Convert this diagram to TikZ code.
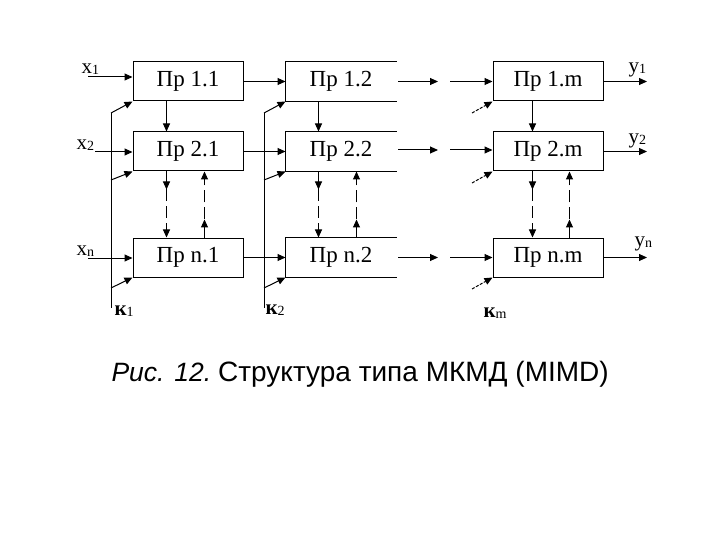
\documentclass[tikz,border=0pt]{standalone}
\usepackage{fontspec}
\setmainfont{Liberation Serif}
\newfontfamily\capfont{Liberation Sans}
\usetikzlibrary{arrows.meta,calc}
\tikzset{
  box/.style={minimum width=110pt, minimum height=39pt, inner sep=0pt, font=\fontsize{23}{26}\selectfont},
  arr/.style={-{Triangle[length=8pt,width=7pt]}},
  dsh/.style={-{Triangle[length=8pt,width=7pt]}, dash pattern=on 12pt off 5pt},
  lbl/.style={inner sep=0pt, font=\fontsize{21}{24}\selectfont},
}
\newcommand{\sbs}[1]{\raisebox{-1pt}{\fontsize{14}{16}\selectfont #1}}
\begin{document}
\begin{tikzpicture}[x=1pt,y=-1pt,line width=1pt]
\useasboundingbox (0,0) rectangle (720,540);
% boxes
\node[box,draw] (b11) at (188,81.5) {Пр 1.1};
\node[box] (b12) at (341,81.5) {Пр 1.2};
\node[box,draw] (b1m) at (548,81.5) {Пр 1.m};
\node[box,draw] (b21) at (188,151.5) {Пр 2.1};
\node[box] (b22) at (341,151.5) {Пр 2.2};
\node[box,draw] (b2m) at (548,151.5) {Пр 2.m};
\node[box,draw] (bn1) at (188,257.5) {Пр n.1};
\node[box] (bn2) at (341,257.5) {Пр n.2};
\node[box,draw] (bnm) at (548,257.5) {Пр n.m};
\foreach \b in {b12,b22,bn2}
  \draw (\b.north east) -- (\b.north west) -- (\b.south west) -- (\b.south east);
% labels
\node[lbl,anchor=base west] (lx1) at (81,74) {x\sbs{1}};
\node[lbl,anchor=base west] (lx2) at (76,150) {x\sbs{2}};
\node[lbl,anchor=base west] (lxn) at (76,255) {x\sbs{n}};
\node[lbl,anchor=base west] (ly1) at (628,73) {y\sbs{1}};
\node[lbl,anchor=base west] (ly2) at (628,144) {y\sbs{2}};
\node[lbl,anchor=base west] (lyn) at (634,247) {y\sbs{n}};
\node[lbl,anchor=base west] (lk1) at (114,315) {\textbf{к}\sbs{1}};
\node[lbl,anchor=base west] (lk2) at (265,314) {\textbf{к}\sbs{2}};
\node[lbl,anchor=base west] (lkm) at (483,317) {\textbf{к}\sbs{m}};
% inputs
\coordinate (x1s) at (88,77);
\coordinate (x2s) at (95,152);
\coordinate (xns) at (88,258);
\draw[arr] (x1s) -- (x1s -| b11.west);
\draw[arr] (x2s) -- (x2s -| b21.west);
\draw[arr] (xns) -- (xns -| bn1.west);
% col1 -> col2
\draw[arr] (b11.east) -- (b12.west);
\draw[arr] (b21.east) -- (b22.west);
\draw[arr] (bn1.east) -- (bn2.west);
% col2 -> gap, gap -> col m
\foreach \r/\yy in {1/81.5,2/150,n/257.5}{
  \coordinate (o\r) at (398,\yy);
  \coordinate (e\r) at (438,\yy);
  \coordinate (i\r) at (450,\yy);
  \draw[arr] (o\r) -- (e\r);
  \draw[arr] (i\r) -- (i\r -| b\r m.west);
}
% outputs
\coordinate (y1e) at (647,81.5);
\coordinate (y2e) at (647,151.5);
\coordinate (yne) at (647,257.5);
\draw[arr] (b1m.east) -- (y1e);
\draw[arr] (b2m.east) -- (y2e);
\draw[arr] (bnm.east) -- (yne);
% buses
\coordinate (k1t) at (111,113); \coordinate (k1b) at (111,308);
\coordinate (k12) at (111,180); \coordinate (k1n) at (111,288);
\coordinate (k2t) at (264,113); \coordinate (k2b) at (264,308);
\coordinate (k22) at (264,180); \coordinate (k2n) at (264,288);
\draw (k1t) -- (k1b);
\draw (k2t) -- (k2b);
\draw[arr] (k1t) -- (b11.south west);
\draw[arr] (k12) -- (b21.south west);
\draw[arr] (k1n) -- (bn1.south west);
\draw[arr] (k2t) -- (b12.south west);
\draw[arr] (k22) -- (b22.south west);
\draw[arr] (k2n) -- (bn2.south west);
\coordinate (km1) at (472,113); \coordinate (km2) at (472,183); \coordinate (kmn) at (472,289);
\draw[arr,dash pattern=on 3pt off 1.5pt] (km1) -- (b1m.south west);
\draw[arr,dash pattern=on 3pt off 1.5pt] (km2) -- (b2m.south west);
\draw[arr,dash pattern=on 3pt off 1.5pt] (kmn) -- (bnm.south west);
% vertical row1 -> row2
\draw[arr] ($(b11.south west)+(34,0)$) -- ($(b21.north west)+(34,0)$);
\draw[arr] ($(b12.south west)+(33,0)$) -- ($(b22.north west)+(33,0)$);
\draw[arr] ($(b1m.south west)+(40,0)$) -- ($(b2m.north west)+(40,0)$);
% dashed row2 <-> rown
\foreach \c/\dn/\up in {1/34/72,2/33/71,m/40/77}{
  \coordinate (d\c) at ($(b2\c.south west)+(\dn,18)$);
  \coordinate (u\c) at ($(bn\c.north west)+(\up,-18)$);
  \draw[arr] ($(b2\c.south west)+(\dn,0)$) -- (d\c);
  \draw[dsh] (d\c) -- ($(bn\c.north west)+(\dn,0)$);
  \draw[arr] ($(bn\c.north west)+(\up,0)$) -- (u\c);
  \draw[dsh] (u\c) -- ($(b2\c.south west)+(\up,0)$);
}
% caption
\node[inner sep=0pt, anchor=base west, font=\capfont\fontsize{28}{32}\selectfont] (cap) at (111,381)
  {{\fontsize{26.5}{32}\selectfont\textit{Рис. 12.}}\hspace{7pt}Структура типа МКМД (MIMD)};
\end{tikzpicture}
\end{document}
